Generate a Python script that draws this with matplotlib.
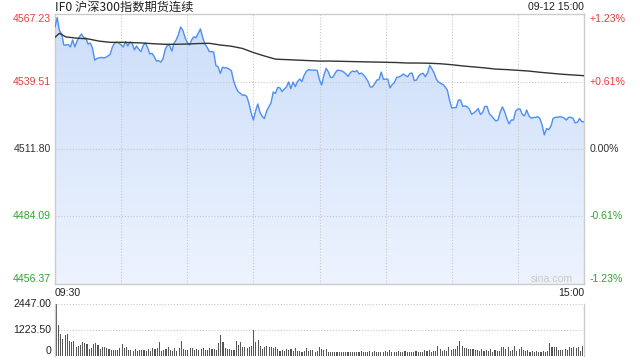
import matplotlib
matplotlib.use("Agg")
import matplotlib.pyplot as plt
import matplotlib.transforms as mtransforms
import numpy as np

# ---------------- data ----------------
title = "IF0 沪深300指数期货连续"
date_label = "09-12 15:00"
time_labels = ["09:30", "15:00"]
prev_close = 4511.80
price_ticks = [4567.23, 4539.51, 4511.80, 4484.09, 4456.37]
pct_labels = ["+1.23%", "+0.61%", "0.00%", "-0.61%", "-1.23%"]
vol_ticks = [2447.00, 1223.50, 0]
vol_tick_labels = ["2447.00", "1223.50", "0"]

prices = [
    4561.9, 4565.8, 4560.4, 4559.2, 4554.5, 4554.5, 4554.7, 4553.7, 4556.6, 4553.7,
    4556.1, 4557.8, 4559.0, 4557.6, 4557.4, 4554.9, 4555.3, 4553.3, 4548.3, 4549.0,
    4549.2, 4549.4, 4549.2, 4549.4, 4550.0, 4550.6, 4553.6, 4555.3, 4555.6, 4555.3,
    4554.5, 4553.7, 4555.9, 4554.1, 4555.7, 4555.3, 4552.5, 4554.1, 4552.7, 4551.8,
    4554.3, 4555.3, 4553.5, 4550.8, 4551.1, 4549.8, 4547.9, 4548.1, 4547.5, 4548.8,
    4552.7, 4554.5, 4554.3, 4552.0, 4555.3, 4556.6, 4558.8, 4561.9, 4560.5, 4557.6,
    4555.5, 4554.5, 4556.6, 4557.9, 4557.5, 4559.4, 4561.1, 4557.6, 4554.9, 4553.6,
    4551.8, 4551.8, 4551.6, 4546.1, 4545.5, 4542.8, 4545.4, 4545.1, 4545.1, 4544.6,
    4544.0, 4539.9, 4537.3, 4535.4, 4534.7, 4533.9, 4534.0, 4533.4, 4530.5, 4526.6,
    4523.7, 4527.4, 4530.3, 4526.8, 4525.2, 4524.3, 4527.4, 4529.1, 4530.7, 4535.2,
    4534.6, 4537.1, 4536.9, 4535.4, 4536.4, 4537.3, 4539.3, 4536.6, 4539.3, 4537.4,
    4539.5, 4540.5, 4539.5, 4542.0, 4543.6, 4544.4, 4544.2, 4544.2, 4544.2, 4544.0,
    4540.1, 4538.1, 4542.2, 4544.9, 4543.5, 4541.2, 4541.2, 4542.8, 4544.1, 4544.1,
    4543.9, 4543.4, 4542.6, 4541.6, 4543.2, 4543.8, 4543.5, 4544.0, 4542.6, 4543.0,
    4542.2, 4541.0, 4539.6, 4537.3, 4537.3, 4538.5, 4540.1, 4540.3, 4543.4, 4540.4,
    4540.5, 4540.5, 4536.9, 4538.3, 4539.1, 4541.2, 4541.4, 4541.8, 4542.6, 4542.0,
    4541.5, 4542.8, 4543.0, 4539.9, 4540.1, 4541.8, 4542.6, 4542.9, 4541.5, 4543.0,
    4546.2, 4544.7, 4543.0, 4540.5, 4539.3, 4538.7, 4538.3, 4537.3, 4536.0, 4531.9,
    4528.6, 4528.8, 4528.8, 4531.9, 4531.9, 4529.3, 4529.5, 4529.1, 4528.2, 4526.1,
    4526.6, 4527.4, 4528.4, 4526.0, 4526.8, 4529.3, 4529.3, 4526.4, 4525.4, 4524.3,
    4523.3, 4523.7, 4527.0, 4529.1, 4527.1, 4524.3, 4522.1, 4523.7, 4523.7, 4527.4,
    4528.2, 4528.2, 4526.0, 4525.4, 4527.8, 4525.4, 4524.5, 4524.7, 4524.8, 4525.1,
    4524.3, 4521.6, 4517.6, 4520.2, 4519.7, 4521.2, 4524.4, 4524.8, 4524.8, 4525.1,
    4524.9, 4524.5, 4523.7, 4524.8, 4524.8, 4524.4, 4522.5, 4522.8, 4524.3, 4523.0,
    4523.0,
]

avg_minutes = [0, 2, 5, 10, 15, 20, 25, 30, 35, 40, 45, 50, 55, 60, 65, 70, 75, 80,
               85, 90, 95, 100, 105, 110, 115, 120, 125, 130, 135, 140, 145, 150,
               155, 160, 165, 170, 175, 180, 185, 190, 195, 200, 205, 210, 215, 220,
               225, 230, 235, 240]
avg_prices = [4557.7, 4559.3, 4557.8, 4557.3, 4557.0, 4556.1, 4555.6, 4555.6, 4555.5,
              4555.3, 4555.0, 4554.8, 4554.8, 4554.9, 4555.1, 4555.2, 4554.5, 4554.0,
              4553.1, 4551.4, 4550.0, 4548.7, 4548.5, 4548.3, 4548.1, 4547.9, 4547.9,
              4547.8, 4547.7, 4547.6, 4547.5, 4547.4, 4547.3, 4547.1, 4547.1, 4547.0,
              4546.8, 4546.4, 4545.9, 4545.5, 4545.1, 4544.6, 4544.4, 4544.1, 4543.8,
              4543.3, 4542.9, 4542.5, 4542.2, 4541.9]

volumes = [
    2447, 1450, 1046, 800, 966, 1014, 690, 644, 725, 435,
    467, 530, 676, 596, 563, 322, 370, 563, 596, 530,
    322, 402, 435, 370, 322, 274, 290, 274, 274, 354,
    563, 354, 435, 290, 274, 241, 322, 241, 274, 290,
    274, 241, 322, 241, 370, 322, 370, 676, 241, 290,
    322, 402, 290, 241, 354, 241, 370, 725, 322, 290,
    290, 354, 370, 290, 306, 274, 306, 370, 274, 290,
    370, 306, 306, 274, 596, 966, 644, 370, 322, 306,
    274, 290, 690, 530, 644, 402, 435, 370, 435, 483,
    1208, 644, 757, 483, 322, 402, 467, 435, 435, 370,
    402, 322, 241, 274, 241, 306, 290, 322, 225, 354,
    241, 241, 193, 241, 354, 241, 274, 290, 209, 241,
    435, 322, 274, 306, 209, 177, 193, 193, 209, 177,
    193, 177, 209, 193, 177, 193, 177, 209, 177, 225,
    209, 177, 193, 225, 209, 225, 177, 193, 177, 193,
    225, 177, 274, 193, 209, 177, 225, 193, 177, 241,
    209, 177, 177, 177, 225, 209, 193, 209, 274, 241,
    290, 209, 241, 225, 483, 306, 241, 290, 241, 435,
    274, 338, 306, 467, 725, 467, 370, 370, 338, 322,
    306, 274, 290, 241, 306, 241, 274, 241, 306, 209,
    274, 241, 241, 435, 435, 322, 435, 241, 274, 467,
    241, 322, 402, 274, 241, 274, 209, 241, 209, 241,
    193, 209, 241, 193, 241, 596, 435, 435, 435, 274,
    274, 274, 306, 274, 402, 370, 402, 370, 402, 241,
    483,
]

# ---------------- style ----------------
RED = "#e83c3c"
GREEN = "#2ba52b"
DARK = "#333333"
GRID = "#c8c8c8"
BORDER = "#cccccc"
LINE = "#4f8ef2"
NUM_FONT = ["Liberation Sans", "DejaVu Sans"]
CJK_FONT = ["Noto Sans CJK SC", "DejaVu Sans"]

fig = plt.figure(figsize=(6.4, 3.6), dpi=100)
W, H = 640.0, 360.0
L, R = 55 / W, 584 / W
ax = fig.add_axes([L, 1 - 284 / H, R - L, (284 - 14) / H])
axv = fig.add_axes([L, 1 - 356 / H, R - L, (356 - 304) / H])

minutes = np.arange(len(prices))
ymin, ymax = price_ticks[-1], price_ticks[0]
ax.set_xlim(0, 240)
ax.set_ylim(ymin, ymax)

# gradient fill under price line
poly = ax.fill_between(minutes, prices, ymin, facecolor="none", edgecolor="none")
grad = np.linspace(0, 1, 256).reshape(-1, 1)
c_top = np.array([0.80, 0.87, 0.98])
c_bot = np.array([0.93, 0.955, 0.995])
img = c_top[None, None, :] * (1 - grad[:, :, None]) + c_bot[None, None, :] * grad[:, :, None]
im = ax.imshow(img, extent=[0, 240, ymin, ymax], aspect="auto", origin="upper", zorder=1)
im.set_clip_path(poly.get_paths()[0], transform=ax.transData)

ax.plot(minutes, prices, color=LINE, lw=1.0, zorder=3)
ax.plot(avg_minutes, avg_prices, color=DARK, lw=1.0, zorder=3)

# grid
for m in range(30, 240, 30):
    ax.axvline(m, color=GRID, lw=0.8, ls=(0, (1, 1.6)), zorder=2)
for p in price_ticks[1:-1]:
    ax.axhline(p, color=GRID, lw=0.8, ls=(0, (1, 1.6)), zorder=2)
ax.set_xticks([])
ax.set_yticks([])
for s in ax.spines.values():
    s.set_color(BORDER)
    s.set_linewidth(1.0)

# price / percent labels
tr_left = mtransforms.blended_transform_factory(fig.transFigure, ax.transData)
colors = [RED, RED, DARK, GREEN, GREEN]
vas = ["top", "center", "center", "center", "bottom"]
for p, pl, c, va in zip(price_ticks, pct_labels, colors, vas):
    off = -0.012 if va == "top" else (0.012 if va == "bottom" else 0)
    ax.text(51 / W, p + off, f"{p:.2f}", transform=tr_left, ha="right", va=va,
            color=c, fontsize=7.6, family=NUM_FONT)
    ax.text(590 / W, p + off, pl, transform=tr_left, ha="left", va=va,
            color=c, fontsize=7.6, family=NUM_FONT)

fig.text(L, 1 - 7 / H, title, ha="left", va="center", fontsize=8.8,
         family=CJK_FONT, color="#222222")
fig.text(R, 1 - 7 / H, date_label, ha="right", va="center", fontsize=7.6,
         family=NUM_FONT, color="#222222")
fig.text(L, 1 - 293 / H, time_labels[0], ha="left", va="center", fontsize=7.6,
         family=NUM_FONT, color="#222222")
fig.text(R, 1 - 293 / H, time_labels[1], ha="right", va="center", fontsize=7.6,
         family=NUM_FONT, color="#222222")
fig.text(573 / W, 1 - 279 / H, "sina.com", ha="right", va="center", fontsize=7.6,
         family=NUM_FONT, color="#c9c9c9")

# volume panel
axv.set_xlim(-0.6, 240.6)
axv.set_ylim(0, vol_ticks[0])
axv.bar(minutes, volumes, width=0.5, align="center", color="#555555", linewidth=0,
        zorder=2)
for v in vol_ticks[:2]:
    axv.axhline(v, color=GRID, lw=0.8, ls=(0, (1, 1.6)), zorder=0)
axv.set_xticks([])
axv.set_yticks([])
for k, s in axv.spines.items():
    s.set_color(BORDER)
    s.set_linewidth(1.0)
    if k in ("top", "bottom"):
        s.set_visible(False)
tr_v = mtransforms.blended_transform_factory(fig.transFigure, axv.transData)
for v, lab in zip(vol_ticks, vol_tick_labels):
    va = "center" if v > 0 else "bottom"
    axv.text(51 / W, v, lab, transform=tr_v, ha="right", va=va, fontsize=7.6,
             family=NUM_FONT, color="#222222")

fig.savefig("out.png", dpi=100)
